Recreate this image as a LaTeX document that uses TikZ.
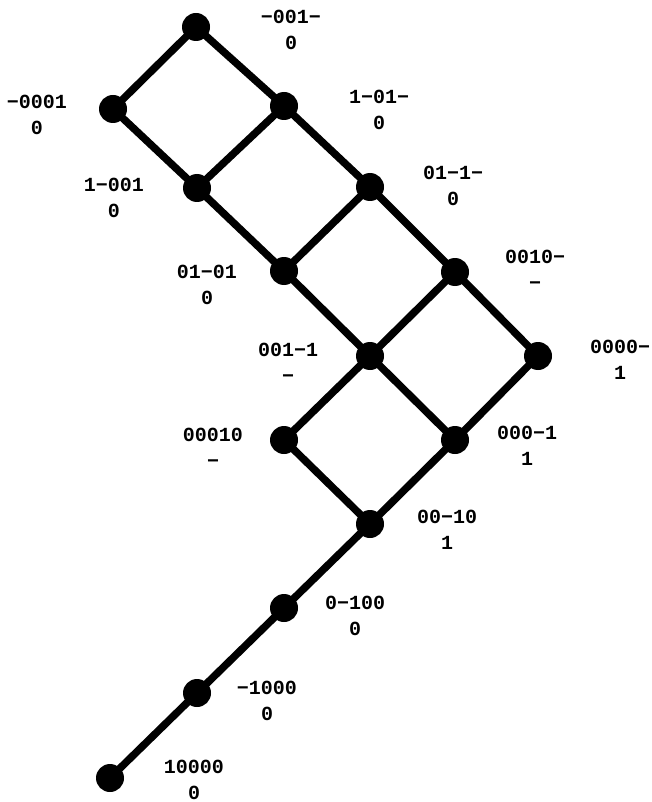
\documentclass[tikz,border=0pt]{standalone}
\usepackage{fontspec}
\setmonofont{Liberation Mono}
\begin{document}
\begin{tikzpicture}[x=1pt,y=-1pt,
  vertex/.style={circle,fill=black,inner sep=0pt,minimum size=28pt},
  edge/.style={line width=7.5pt},
  lbl/.style={align=center,inner sep=0pt,
    font=\fontsize{20}{25.5}\selectfont\ttfamily\bfseries}]
\useasboundingbox (0,0) rectangle (652,802);
% lattice vertices
\node[vertex] (a) at (196,27) {};
\node[vertex] (b) at (113,109) {};
\node[vertex] (c) at (284,106) {};
\node[vertex] (d) at (197,188) {};
\node[vertex] (e) at (370,187) {};
\node[vertex] (f) at (284,271) {};
\node[vertex] (g) at (455,272) {};
\node[vertex] (h) at (370,356) {};
\node[vertex] (i) at (538,356) {};
\node[vertex] (j) at (284,440) {};
\node[vertex] (k) at (455,440) {};
\node[vertex] (l) at (370,524) {};
\node[vertex] (m) at (284,608) {};
\node[vertex] (n) at (197,693) {};
\node[vertex] (o) at (110,778) {};
% edges
\draw[edge] (a.center) -- (b.center);
\draw[edge] (a.center) -- (c.center);
\draw[edge] (b.center) -- (d.center);
\draw[edge] (c.center) -- (d.center);
\draw[edge] (c.center) -- (e.center);
\draw[edge] (d.center) -- (f.center);
\draw[edge] (e.center) -- (f.center);
\draw[edge] (e.center) -- (g.center);
\draw[edge] (f.center) -- (h.center);
\draw[edge] (g.center) -- (h.center);
\draw[edge] (g.center) -- (i.center);
\draw[edge] (h.center) -- (j.center);
\draw[edge] (h.center) -- (k.center);
\draw[edge] (i.center) -- (k.center);
\draw[edge] (j.center) -- (l.center);
\draw[edge] (k.center) -- (l.center);
\draw[edge] (l.center) -- (m.center);
\draw[edge] (m.center) -- (n.center);
\draw[edge] (n.center) -- (o.center);
% labels
\node[lbl] (la) at (291,30) {−001−\\0};
\node[lbl] (lb) at (37,115) {−0001\\0};
\node[lbl] (lc) at (379,110) {1−01−\\0};
\node[lbl] (ld) at (114,198) {1−001\\0};
\node[lbl] (le) at (453,186) {01−1−\\0};
\node[lbl] (lf) at (207,285) {01−01\\0};
\node[lbl] (lg) at (535,270) {0010−\\−};
\node[lbl] (lh) at (288,363) {001−1\\−};
\node[lbl] (li) at (620,360) {0000−\\1};
\node[lbl] (lj) at (213,448) {00010\\−};
\node[lbl] (lk) at (527,446) {000−1\\1};
\node[lbl] (ll) at (447,530) {00−10\\1};
\node[lbl] (lm) at (355,616) {0−100\\0};
\node[lbl] (ln) at (267,701) {−1000\\0};
\node[lbl] (lo) at (194,780) {10000\\0};
\end{tikzpicture}
\end{document}
